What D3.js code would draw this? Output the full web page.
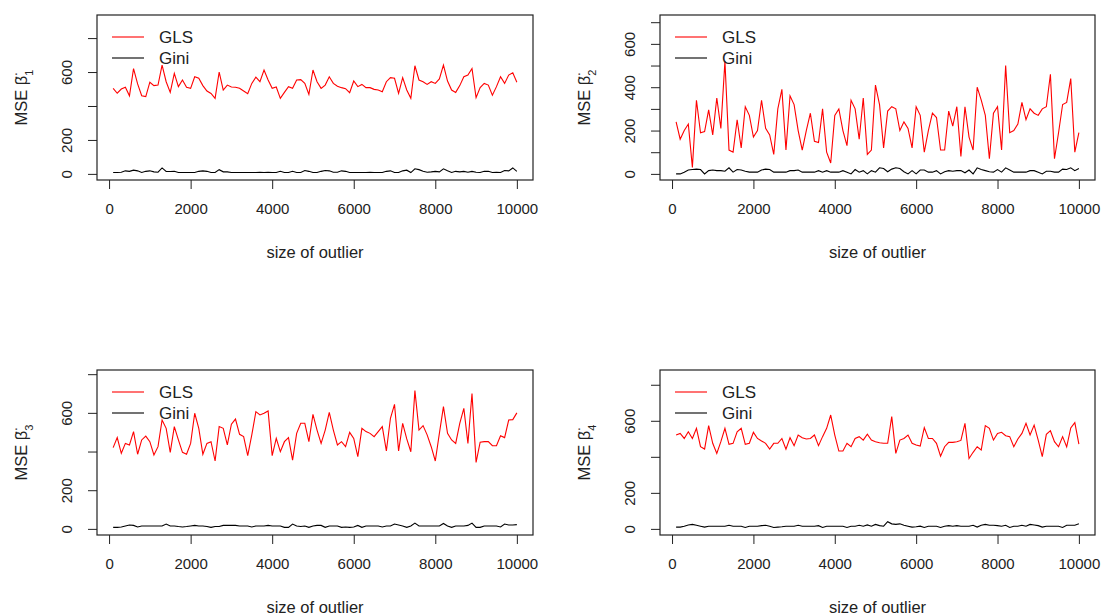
<!DOCTYPE html>
<html>
<head>
<meta charset="utf-8">
<script src="https://cdn.jsdelivr.net/npm/d3@7"></script>
<style>
  body { margin: 0; background: #fff; }
  svg { font-family: "Liberation Sans", Arial, sans-serif; }
</style>
</head>
<body>
<svg id="mysvg" width="1105" height="616"></svg>
<script>
// outlier sizes 100..10000
const outlierSizes = d3.range(1, 101).map((k) => k * 100);

const xTicks = [0, 2000, 4000, 6000, 8000, 10000];

// MSE of beta_1
const gls1 = [504,475,500,510,460,620,530,460,455,540,520,523,641,543,480,592,514,553,510,504,
  572,563,520,488,474,445,600,494,523,512,510,504,488,472,533,570,543,612,553,504,
  512,445,480,514,504,553,555,533,468,612,543,504,523,572,533,516,508,502,478,547,
  514,527,508,508,498,494,484,543,567,563,474,567,494,445,637,553,543,527,543,533,
  559,641,547,494,480,520,572,582,621,449,508,533,523,464,514,572,533,582,595,540];
const gini1 = [8,8,10,18,15,22,18,8,15,18,12,10,35,15,14,15,8,8,8,8,8,15,18,15,8,8,25,12,12,8,
  8,8,8,8,8,8,10,8,10,8,8,15,8,8,15,8,8,20,15,8,8,15,20,18,10,10,18,15,8,8,
  8,8,8,10,8,8,8,15,18,8,8,18,22,8,30,25,15,10,12,15,12,30,18,8,15,12,15,10,15,10,
  8,15,15,8,10,8,20,18,35,15];

// MSE of beta_2
const gls2 = [240,160,200,230,30,340,190,195,295,180,350,210,520,110,100,250,120,310,270,170,
  200,340,210,180,90,300,390,110,360,320,200,110,200,280,150,145,300,100,50,270,
  300,200,130,340,300,160,350,90,110,410,320,120,290,310,300,200,240,210,120,310,
  270,100,200,280,260,110,110,290,220,310,80,310,170,110,400,340,270,70,280,310,
  110,500,190,200,230,330,250,300,280,270,300,310,460,70,190,320,330,440,100,190];
const gini2 = [0,0,8,18,20,22,20,0,15,18,15,15,12,28,8,20,18,12,8,8,8,18,22,20,8,8,8,8,15,15,
  18,8,8,8,8,15,8,15,8,8,8,15,8,0,20,8,15,0,15,8,28,25,10,22,28,25,10,0,15,0,
  18,18,8,8,15,0,10,15,12,15,15,5,18,0,28,20,15,10,8,20,8,28,18,8,8,8,8,15,15,8,
  0,12,12,8,8,22,20,28,15,25];

// MSE of beta_3
const gls3 = [420,472,391,442,434,503,386,460,480,451,382,425,563,520,396,529,460,396,386,442,
  598,520,386,442,451,351,529,520,434,541,568,489,477,379,486,606,589,598,610,379,
  468,399,451,472,356,494,546,546,451,592,511,442,511,603,511,434,451,425,499,468,
  374,520,503,494,477,503,529,403,572,644,403,546,465,399,715,511,534,486,425,351,
  494,632,494,460,442,546,623,442,700,344,448,451,451,430,430,482,472,563,565,600];
const gini3 = [8,8,10,15,20,18,10,15,15,15,15,15,15,25,15,15,12,10,12,15,18,15,15,12,8,12,12,18,18,18,
  18,15,15,15,10,15,15,15,18,15,15,15,8,8,25,15,12,15,8,15,18,18,8,15,15,15,8,10,8,10,
  18,8,15,15,15,15,10,15,15,25,20,15,8,15,30,15,15,15,15,15,15,28,15,8,15,15,15,18,30,8,
  8,15,15,15,15,10,25,20,20,22];

// MSE of beta_4
const gls4 = [521,530,502,539,502,558,456,443,573,475,419,484,558,469,475,539,558,469,475,536,
  502,488,475,443,475,475,502,443,506,462,521,506,499,502,521,462,512,558,632,521,
  432,432,475,456,502,512,493,525,493,484,478,475,475,623,419,493,502,521,475,466,
  460,562,502,502,475,404,456,480,480,484,491,586,391,425,456,438,573,558,493,530,
  536,517,512,456,499,530,586,521,576,493,401,525,545,484,456,512,455,560,590,470];
const gini4 = [10,10,15,22,25,20,15,10,15,15,15,15,15,20,15,15,15,8,15,15,15,18,20,15,8,10,12,15,15,15,
  20,15,15,15,15,18,8,15,15,15,15,15,8,15,15,20,15,22,15,25,18,15,40,28,25,28,20,15,10,12,
  15,8,15,15,15,8,15,18,15,18,15,15,15,20,10,20,25,20,20,18,15,20,8,15,15,20,15,25,22,18,
  10,15,15,15,15,8,20,20,20,28];

const seriesNames = ["GLS", "Gini"];
const seriesColors = ["#ff0000", "#000000"];

// panel layout (pixel boxes of the plot regions)
const panels = [
  { left: 97, right: 533, top: 15, bottom: 180, ymax: 900, yTicks: [0,200,400,600,800], yLabels: [0,200,600], sub: "1", gls: gls1, gini: gini1 },
  { left: 660, right: 1095, top: 15, bottom: 180, ymax: 705, yTicks: [0,100,200,300,400,500,600,700], yLabels: [0,200,400,600], sub: "2", gls: gls2, gini: gini2 },
  { left: 97, right: 533, top: 370, bottom: 535, ymax: 790, yTicks: [0,200,400,600,800], yLabels: [0,200,600], sub: "3", gls: gls3, gini: gini3 },
  { left: 660, right: 1095, top: 370, bottom: 535, ymax: 848, yTicks: [0,200,400,600,800], yLabels: [0,200,600], sub: "4", gls: gls4, gini: gini4 },
];

const svg = d3.select("#mysvg");
const ink = "#222";
const font = "Liberation Sans, Arial, sans-serif";

function drawPanel(p) {
  const g = svg.append("g");

  // R style 4% padding on both axes
  const xPad = (10000 - 100) * 0.04;
  const x = d3.scaleLinear().domain([100 - xPad, 10000 + xPad]).range([p.left, p.right]);
  const yPad = p.ymax * 0.04;
  const y = d3.scaleLinear().domain([-yPad, p.ymax + yPad]).range([p.bottom, p.top]);

  const line = d3.line().x((d, i) => x(outlierSizes[i])).y((d) => y(d));

  g.append("path").datum(p.gls).attr("d", line)
    .attr("fill", "none").attr("stroke", seriesColors[0]).attr("stroke-width", 1.1);
  g.append("path").datum(p.gini).attr("d", line)
    .attr("fill", "none").attr("stroke", seriesColors[1]).attr("stroke-width", 1.1);

  // box
  g.append("rect")
    .attr("x", p.left).attr("y", p.top)
    .attr("width", p.right - p.left).attr("height", p.bottom - p.top)
    .attr("fill", "none").attr("stroke", ink).attr("stroke-width", 1.2);

  // x axis
  const xAxis = g.append("g")
    .attr("transform", `translate(0,${p.bottom})`)
    .call(d3.axisBottom(x).tickValues(xTicks).tickSize(9).tickPadding(14).tickFormat(d3.format("d")));
  xAxis.select(".domain").remove();
  xAxis.selectAll("line").attr("stroke", ink);
  xAxis.selectAll("text").attr("font-size", 15).attr("fill", ink).attr("font-family", font);

  // y axis
  const yAxis = g.append("g")
    .attr("transform", `translate(${p.left},0)`)
    .call(d3.axisLeft(y).tickValues(p.yTicks).tickSize(9)
      .tickFormat((d) => (p.yLabels.includes(d) ? d : "")));
  yAxis.select(".domain").remove();
  yAxis.selectAll("line").attr("stroke", ink);
  yAxis.selectAll("text")
    .attr("x", 0).attr("y", -25).attr("dy", 0)
    .attr("text-anchor", "middle")
    .attr("transform", "rotate(-90)")
    .attr("font-size", 15).attr("fill", ink)
    .attr("font-family", font);

  // axis titles
  g.append("text")
    .attr("x", (p.left + p.right) / 2).attr("y", p.bottom + 78)
    .attr("text-anchor", "middle").attr("font-size", 16.5).attr("fill", ink)
    .text("size of outlier");

  const yt = g.append("text")
    .attr("transform", `translate(${p.left - 70},${(p.top + p.bottom) / 2}) rotate(-90)`)
    .attr("text-anchor", "middle").attr("font-size", 16.5).attr("fill", ink);
  yt.append("tspan").text("MSE \u03B2\u0308");
  yt.append("tspan").attr("baseline-shift", "sub").attr("font-size", 11).text(p.sub);

  // legend
  seriesNames.forEach((name, k) => {
    const ly = p.top + 22 + k * 21;
    g.append("line")
      .attr("x1", p.left + 15).attr("x2", p.left + 47)
      .attr("y1", ly).attr("y2", ly)
      .attr("stroke", seriesColors[k]).attr("stroke-width", 1.1);
    g.append("text")
      .attr("x", p.left + 62).attr("y", ly).attr("dy", "0.36em")
      .attr("font-size", 17).attr("fill", ink)
      .text(name);
  });
}

panels.forEach(drawPanel);
</script>
</body>
</html>
